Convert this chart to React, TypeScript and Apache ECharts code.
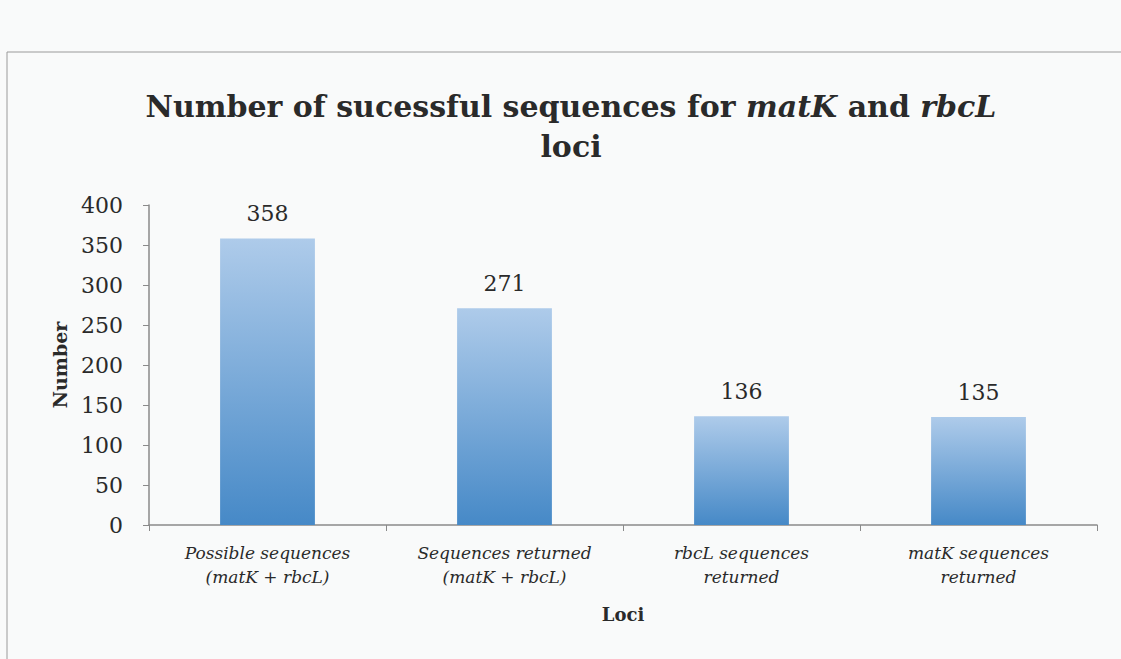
import React, { useEffect, useRef } from "react";
import * as echarts from "echarts";

const categories = [
  "Possible sequences\n(matK + rbcL)",
  "Sequences returned\n(matK + rbcL)",
  "rbcL sequences\nreturned",
  "matK sequences\nreturned",
];
const values = [358, 271, 136, 135];
const yTicks = { min: 0, max: 400, interval: 50 };

const FONT = "DejaVu Serif";

export default function App() {
  const ref = useRef<HTMLDivElement>(null);
  useEffect(() => {
    const chart = echarts.init(ref.current!, null, { renderer: "svg" });
    chart.setOption({
      animation: false,
      backgroundColor: "#f9fafa",
      title: {
        text: "Number of sucessful sequences for {i|matK} and {i|rbcL}\nloci",
        left: 566,
        top: 81,
        textAlign: "center",
        textStyle: {
          fontFamily: FONT,
          fontSize: 30,
          fontWeight: "bold",
          color: "#2a2a2a",
          lineHeight: 40,
          rich: {
            i: {
              fontFamily: FONT,
              fontSize: 30,
              fontWeight: "bold",
              fontStyle: "italic",
              color: "#2a2a2a",
            },
          },
        },
      },
      grid: { left: 149, right: 24, top: 205, bottom: 134 },
      xAxis: {
        type: "category",
        data: categories,
        name: "Loci",
        nameLocation: "middle",
        nameGap: 80,
        nameTextStyle: { fontFamily: FONT, fontSize: 18, fontWeight: "bold", color: "#2a2a2a" },
        axisLine: { lineStyle: { color: "#8a8a8a", width: 1.5 } },
        axisTick: { show: true, length: 6, lineStyle: { color: "#8a8a8a" } },
        axisLabel: {
          fontFamily: FONT,
          fontStyle: "italic",
          fontSize: 17,
          lineHeight: 24,
          color: "#2a2a2a",
          margin: 16,
        },
      },
      yAxis: {
        type: "value",
        min: yTicks.min,
        max: yTicks.max,
        interval: yTicks.interval,
        name: "Number",
        nameLocation: "middle",
        nameGap: 80,
        nameRotate: 90,
        nameTextStyle: { fontFamily: FONT, fontSize: 19, fontWeight: "bold", color: "#2a2a2a" },
        axisLine: { show: true, lineStyle: { color: "#8a8a8a", width: 1.5 } },
        axisTick: { show: true, length: 6, lineStyle: { color: "#8a8a8a" } },
        splitLine: { show: false },
        axisLabel: { fontFamily: FONT, fontSize: 22, color: "#2a2a2a", margin: 26 },
      },
      series: [
        {
          type: "bar",
          data: values,
          barWidth: "40%",
          itemStyle: {
            color: new echarts.graphic.LinearGradient(0, 0, 0, 1, [
              { offset: 0, color: "#aecbea" },
              { offset: 1, color: "#4689c7" },
            ]),
          },
          label: {
            show: true,
            position: "top",
            distance: 14,
            fontFamily: FONT,
            fontSize: 22,
            color: "#2a2a2a",
          },
        },
      ],
      graphic: [
        {
          type: "line",
          shape: { x1: 7, y1: 52, x2: 1121, y2: 52 },
          style: { stroke: "#9a9a9a", lineWidth: 1 },
        },
        {
          type: "line",
          shape: { x1: 7, y1: 52, x2: 7, y2: 659 },
          style: { stroke: "#9a9a9a", lineWidth: 1 },
        },
      ],
    });
    return () => chart.dispose();
  }, []);
  return (
    <div
      ref={ref}
      style={{ position: "fixed", left: 0, top: 0, width: 1121, height: 659 }}
    />
  );
}
